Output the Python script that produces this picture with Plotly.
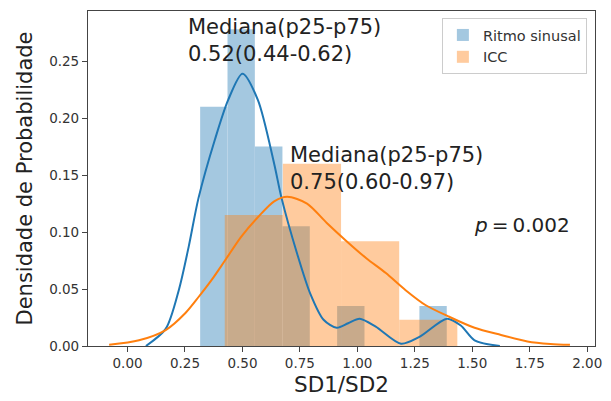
import plotly.graph_objects as go

# ---- data ----
rs_edges = [0.316, 0.435, 0.554, 0.674, 0.793, 0.912, 1.031, 1.150, 1.270, 1.389]
rs_heights = [0.210, 0.278, 0.175, 0.105, 0.0, 0.035, 0.0, 0.0, 0.035]

icc_edges = [0.423, 0.676, 0.929, 1.182, 1.435]
icc_heights = [0.115, 0.160, 0.092, 0.023]

rs_kde_x = [0.08, 0.166, 0.223, 0.266, 0.309, 0.38, 0.438, 0.50, 0.567, 0.638, 0.67,
            0.738, 0.795, 0.853, 0.91, 0.96, 1.01, 1.08, 1.19, 1.27, 1.39, 1.45, 1.51, 1.62]
rs_kde_y = [0.0, 0.015, 0.049, 0.087, 0.13, 0.181, 0.216, 0.239, 0.216, 0.16, 0.13,
            0.081, 0.046, 0.023, 0.016, 0.02, 0.024, 0.017, 0.002, 0.008, 0.024, 0.018, 0.005, 0.0]

icc_kde_x = [-0.08, 0.05, 0.166, 0.252, 0.309, 0.366, 0.424, 0.495, 0.567, 0.638, 0.695,
             0.781, 0.867, 0.953, 1.039, 1.124, 1.21, 1.296, 1.396, 1.51, 1.625, 1.74, 1.84, 1.925]
icc_kde_y = [0.001, 0.005, 0.014, 0.029, 0.043, 0.058, 0.075, 0.096, 0.113, 0.127, 0.131,
             0.125, 0.108, 0.092, 0.077, 0.064, 0.049, 0.036, 0.026, 0.016, 0.0097, 0.004, 0.0018, 0.001]

series_names = ["Ritmo sinusal", "ICC"]
x_ticks = [0.0, 0.25, 0.5, 0.75, 1.0, 1.25, 1.5, 1.75, 2.0]
y_ticks = [0.0, 0.05, 0.10, 0.15, 0.20, 0.25]
annot_rs = "Mediana(p25-p75)<br>0.52(0.44-0.62)"
annot_icc = "Mediana(p25-p75)<br>0.75(0.60-0.97)"
annot_p = "<i>p</i>\u2009=\u20090.002"

BLUE = "#1f77b4"
ORANGE = "#ff7f0e"
FONT = "DejaVu Sans"


def centers(edges):
    return [(a + b) / 2 for a, b in zip(edges[:-1], edges[1:])]


def widths(edges):
    return [b - a for a, b in zip(edges[:-1], edges[1:])]


fig = go.Figure()
fig.add_trace(go.Bar(x=centers(rs_edges), y=rs_heights, width=widths(rs_edges),
                     marker=dict(color=BLUE, line=dict(width=0)), opacity=0.4,
                     name=series_names[0]))
fig.add_trace(go.Bar(x=centers(icc_edges), y=icc_heights, width=widths(icc_edges),
                     marker=dict(color=ORANGE, line=dict(width=0)), opacity=0.4,
                     name=series_names[1]))
fig.add_trace(go.Scatter(x=rs_kde_x, y=rs_kde_y, mode="lines",
                         line=dict(color=BLUE, width=2, shape="spline", smoothing=0.8),
                         showlegend=False))
fig.add_trace(go.Scatter(x=icc_kde_x, y=icc_kde_y, mode="lines",
                         line=dict(color=ORANGE, width=2, shape="spline", smoothing=0.8),
                         showlegend=False))

axis_common = dict(showline=True, linecolor="#444", linewidth=1.2, mirror=True,
                   ticks="outside", ticklen=5, tickcolor="#444", tickwidth=1,
                   showgrid=False, zeroline=False,
                   tickfont=dict(family=FONT, size=13.5, color="#333"))

fig.update_xaxes(range=[-0.172, 2.034], tickvals=x_ticks, tickformat=".2f",
                 title=dict(text="SD1/SD2", font=dict(family=FONT, size=21.5, color="#222"),
                            standoff=6),
                 **axis_common)
fig.update_yaxes(range=[0, 0.294], tickvals=y_ticks, tickformat=".2f",
                 title=dict(text="Densidade de Probabilidade",
                            font=dict(family=FONT, size=21, color="#222"), standoff=10),
                 **axis_common)

fig.add_annotation(x=0.253, y=0.292, xref="x", yref="y", text=annot_rs, showarrow=False,
                   xanchor="left", yanchor="top", align="left",
                   font=dict(family=FONT, size=21, color="#222"))
fig.add_annotation(x=0.70, y=0.180, xref="x", yref="y", text=annot_icc, showarrow=False,
                   xanchor="left", yanchor="top", align="left",
                   font=dict(family=FONT, size=21, color="#222"))
fig.add_annotation(x=1.715, y=0.106, xref="x", yref="y", text=annot_p, showarrow=False,
                   xanchor="center", yanchor="middle",
                   font=dict(family=FONT, size=20, color="#222"))

fig.update_layout(
    width=611, height=401,
    margin=dict(l=88, r=9, t=11, b=55),
    barmode="overlay",
    plot_bgcolor="white", paper_bgcolor="white",
    legend=dict(x=0.984, y=0.979, xanchor="right", yanchor="top",
                bgcolor="rgba(255,255,255,0.8)", bordercolor="#ccc", borderwidth=1,
                font=dict(family=FONT, size=14.5, color="#333"),
                tracegroupgap=2),
    showlegend=True,
)

fig.write_html("out.html")
